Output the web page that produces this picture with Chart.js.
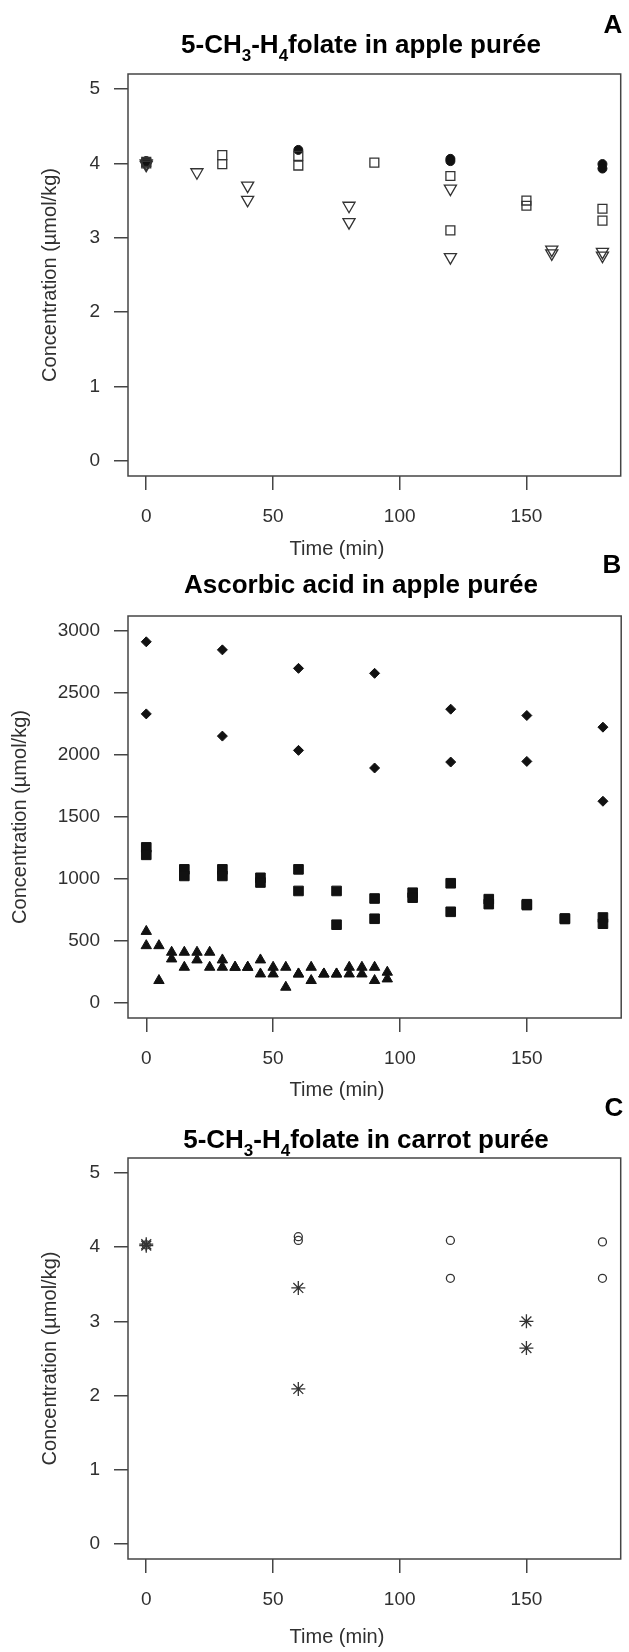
<!DOCTYPE html>
<html><head><meta charset="utf-8">
<script src="https://cdn.jsdelivr.net/npm/chart.js@4.4.0/dist/chart.umd.min.js"></script>
<style>
html,body{margin:0;padding:0;background:#fff;}
#wrap{position:relative;width:629px;height:1652px;overflow:hidden;background:#fff;}
canvas{position:absolute;left:0;top:0;pointer-events:none;}
</style></head><body>
<div id="wrap">
<canvas id="cA" width="629" height="1652"></canvas>
<canvas id="cB" width="629" height="1652"></canvas>
<canvas id="cC" width="629" height="1652"></canvas>
</div>
<script>
// ---------- DATA ----------
const X_TICKS = [0, 50, 100, 150];
const Y_TICKS_FOLATE = [0, 1, 2, 3, 4, 5];
const Y_TICKS_ASCORBIC = [0, 500, 1000, 1500, 2000, 2500, 3000];

const TITLE_A = [['5-CH', false], ['3', true], ['-H', false], ['4', true], ['folate in apple purée', false]];
const TITLE_B = [['Ascorbic acid in apple purée', false]];
const TITLE_C = [['5-CH', false], ['3', true], ['-H', false], ['4', true], ['folate in carrot purée', false]];
const X_LABEL = 'Time (min)';
const Y_LABEL = 'Concentration (µmol/kg)';

// Panel A: 5-CH3-H4folate in apple purée
const A_circle_t = [0, 0, 60, 120, 120, 180, 180];
const A_circle_c = [4.03, 4.01, 4.18, 4.06, 4.03, 3.99, 3.93];
const A_square_t = [0, 0, 30, 30, 60, 60, 90, 120, 120, 150, 150, 180, 180];
const A_square_c = [4.02, 4.00, 4.11, 3.99, 4.10, 3.97, 4.01, 3.83, 3.10, 3.50, 3.43, 3.39, 3.23];
const A_tri_t = [0, 0, 20, 40, 40, 80, 80, 120, 120, 160, 160, 180, 180];
const A_tri_c = [4.00, 3.98, 3.88, 3.70, 3.51, 3.43, 3.21, 3.66, 2.74, 2.84, 2.79, 2.81, 2.76];

// Panel B: ascorbic acid in apple purée
const B_diamond_t = [0, 0, 30, 30, 60, 60, 90, 90, 120, 120, 150, 150, 180, 180];
const B_diamond_c = [2912, 2331, 2847, 2152, 2698, 2037, 2658, 1895, 2369, 1943, 2318, 1948, 2224, 1627];
const B_square_t = [0, 0, 15, 15, 30, 30, 45, 45, 60, 60, 75, 75, 90, 90, 105, 105, 120, 120, 135, 135, 150, 150, 165, 165, 180, 180];
const B_square_c = [1255, 1195, 1078, 1025, 1078, 1025, 1010, 972, 1078, 904, 904, 632, 843, 680, 890, 850, 966, 736, 838, 798, 797, 790, 682, 678, 690, 640];
const B_tri_t = [0, 0, 5, 5, 10, 10, 15, 15, 20, 20, 25, 25, 30, 30, 35, 35, 40, 40, 45, 45, 50, 50, 55, 55, 60, 60, 65, 65, 70, 70, 75, 75, 80, 80, 85, 85, 90, 90, 95, 95];
const B_tri_c = [578, 463, 463, 182, 410, 356, 410, 289, 410, 348, 410, 289, 348, 289, 289, 289, 289, 289, 348, 235, 289, 235, 289, 128, 235, 235, 289, 182, 235, 235, 235, 235, 289, 235, 289, 235, 289, 182, 249, 195];

// Panel C: 5-CH3-H4folate in carrot purée
const C_circle_t = [0, 60, 60, 120, 120, 180, 180];
const C_circle_c = [4.03, 4.14, 4.09, 4.09, 3.58, 4.07, 3.58];
const C_star_t = [0, 0, 60, 60, 150, 150];
const C_star_c = [4.04, 4.02, 3.45, 2.09, 3.00, 2.64];

// ---------- STYLE / HELPERS ----------
const FONT = "'Liberation Sans', Arial, Helvetica, sans-serif";
const AXIS_COL = '#454545';
const TXT_COL = '#303030';

function pts(t, c) { return t.map((v, i) => ({ x: v, y: c[i] })); }

const boxPlugin = {
  id: 'box',
  beforeDatasetsDraw(chart) {
    const a = chart.chartArea, ctx = chart.ctx;
    ctx.save();
    ctx.strokeStyle = AXIS_COL;
    ctx.lineWidth = 1.5;
    ctx.strokeRect(a.left, a.top, a.right - a.left, a.bottom - a.top);
    ctx.restore();
  }
};

const titlePlugin = {
  id: 'panelTitle',
  afterDraw(chart, args, o) {
    const ctx = chart.ctx;
    ctx.save();
    ctx.textBaseline = 'alphabetic';
    ctx.fillStyle = '#000';
    const big = 'bold ' + o.size + 'px ' + FONT;
    const small = 'bold ' + Math.round(o.size * 0.66) + 'px ' + FONT;
    let w = 0;
    o.parts.forEach(p => { ctx.font = p[1] ? small : big; w += ctx.measureText(p[0]).width; });
    let x = o.x - w / 2;
    ctx.textAlign = 'left';
    o.parts.forEach(p => {
      ctx.font = p[1] ? small : big;
      ctx.fillText(p[0], x, o.y + (p[1] ? o.size * 0.3 : 0));
      x += ctx.measureText(p[0]).width;
    });
    ctx.font = 'bold ' + o.letterSize + 'px ' + FONT;
    ctx.textAlign = 'center';
    ctx.fillText(o.letter, o.lx, o.ly);
    ctx.fillStyle = TXT_COL;
    ctx.font = o.xlabSize + 'px ' + FONT;
    ctx.fillText(o.xlab, o.xlx, o.xly);
    ctx.restore();
  }
};

function makePanel(id, p) {
  const hx = 1652 - p.area.b;
  return new Chart(document.getElementById(id), {
    type: 'scatter',
    data: { datasets: p.datasets },
    options: {
      responsive: false,
      animation: false,
      events: [],
      layout: { padding: { left: 0, top: p.area.t, right: 629 - p.area.r, bottom: 0 } },
      plugins: {
        legend: { display: false },
        tooltip: { enabled: false },
        panelTitle: {
          parts: p.title, x: p.titleX, y: p.titleY, size: 26,
          letter: p.letter, lx: p.lx, ly: p.ly, letterSize: 26,
          xlab: X_LABEL, xlx: p.xlx, xly: p.xly, xlabSize: 20
        }
      },
      scales: {
        x: {
          type: 'linear', min: p.xMin, max: p.xMax,
          afterBuildTicks: s => { s.ticks = X_TICKS.map(v => ({ value: v })); },
          afterFit: s => { s.height = hx; },
          ticks: { font: { family: FONT, size: 19 }, color: TXT_COL, padding: 15, maxRotation: 0, autoSkip: false, callback: v => String(v) },
          grid: { drawOnChartArea: false, drawTicks: true, tickLength: 14, color: AXIS_COL, lineWidth: 1.5 },
          border: { display: false },
          title: { display: false }
        },
        y: {
          type: 'linear', min: p.yMin, max: p.yMax,
          afterBuildTicks: s => { s.ticks = p.yTicks.map(v => ({ value: v })); },
          afterFit: s => { s.width = p.area.l; },
          ticks: { font: { family: FONT, size: 19 }, color: TXT_COL, padding: 14, autoSkip: false, callback: v => String(v) },
          grid: { drawOnChartArea: false, drawTicks: true, tickLength: 14, color: AXIS_COL, lineWidth: 1.5 },
          border: { display: false },
          title: { display: true, text: Y_LABEL, font: { family: FONT, size: 20 }, color: TXT_COL, padding: { top: p.yTitlePad, bottom: 0 } }
        }
      }
    },
    plugins: [boxPlugin, titlePlugin]
  });
}

const OPEN = { backgroundColor: 'rgba(0,0,0,0)', borderColor: '#333', borderWidth: 1.3, showLine: false };
const FILL = { backgroundColor: '#111', borderColor: '#111', borderWidth: 1, showLine: false };

makePanel('cA', {
  area: { l: 128, r: 627, t: 74, b: 476 },
  xMin: -7.2, xMax: 187.2, yMin: -0.2, yMax: 5.2, yTicks: Y_TICKS_FOLATE, yTitlePad: 38,
  title: TITLE_A, titleX: 361, titleY: 53, letter: 'A', lx: 613, ly: 33,
  xlx: 337, xly: 555,
  datasets: [
    Object.assign({ label: 'squares', data: pts(A_square_t, A_square_c), pointStyle: 'rect', pointRadius: 6.3 }, OPEN),
    Object.assign({ label: 'triangles', data: pts(A_tri_t, A_tri_c), pointStyle: 'triangle', rotation: 180, pointRadius: 7 }, OPEN),
    Object.assign({ label: 'circles', data: pts(A_circle_t, A_circle_c), pointStyle: 'circle', pointRadius: 4.5 }, FILL)
  ]
});

makePanel('cB', {
  area: { l: 128, r: 627, t: 616, b: 1018 },
  xMin: -7.2, xMax: 187.2, yMin: -120, yMax: 3120, yTicks: Y_TICKS_ASCORBIC, yTitlePad: 8,
  title: TITLE_B, titleX: 361, titleY: 593, letter: 'B', lx: 612, ly: 573,
  xlx: 337, xly: 1096,
  datasets: [
    Object.assign({ label: 'diamonds', data: pts(B_diamond_t, B_diamond_c), pointStyle: 'rectRot', pointRadius: 5 }, FILL),
    Object.assign({ label: 'squares', data: pts(B_square_t, B_square_c), pointStyle: 'rect', pointRadius: 6.8 }, FILL),
    Object.assign({ label: 'triangles', data: pts(B_tri_t, B_tri_c), pointStyle: 'triangle', pointRadius: 6 }, FILL)
  ]
});

makePanel('cC', {
  area: { l: 128, r: 627, t: 1158, b: 1559 },
  xMin: -7.2, xMax: 187.2, yMin: -0.2, yMax: 5.2, yTicks: Y_TICKS_FOLATE, yTitlePad: 38,
  title: TITLE_C, titleX: 366, titleY: 1148, letter: 'C', lx: 614, ly: 1116,
  xlx: 337, xly: 1643,
  datasets: [
    Object.assign({ label: 'circles', data: pts(C_circle_t, C_circle_c), pointStyle: 'circle', pointRadius: 4 }, OPEN),
    Object.assign({ label: 'stars', data: pts(C_star_t, C_star_c), pointStyle: 'star', pointRadius: 7 }, OPEN)
  ]
});
</script>
</body></html>
